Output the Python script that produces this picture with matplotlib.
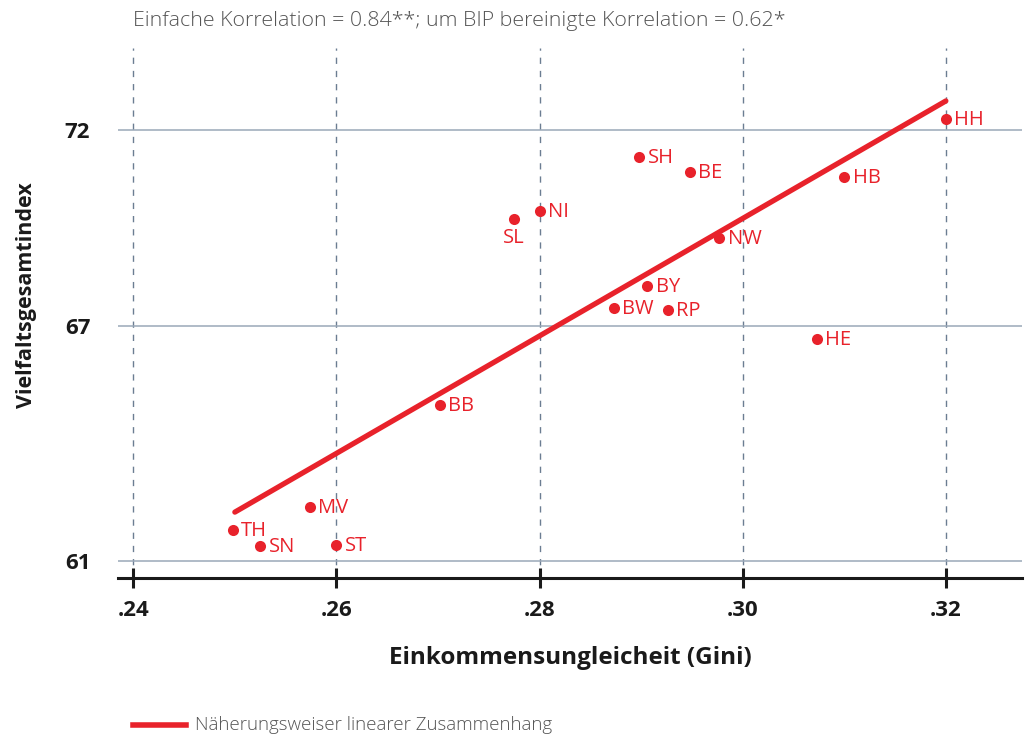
import matplotlib.pyplot as plt

plt.rcParams['font.family'] = ['Open Sans', 'DejaVu Sans']

# --- data ---
laender = ['HH', 'HB', 'BE', 'SH', 'NI', 'SL', 'NW', 'BY', 'BW', 'RP',
           'HE', 'BB', 'MV', 'TH', 'SN', 'ST']
gini = [0.320, 0.310, 0.2948, 0.2898, 0.280, 0.2775, 0.2977, 0.2906, 0.2873,
        0.2926, 0.3073, 0.2702, 0.2574, 0.2498, 0.2525, 0.260]
vielfalt = [72.28, 70.80, 70.93, 71.31, 69.93, 69.73, 69.24, 68.02, 67.46,
            67.41, 66.67, 64.98, 62.38, 61.79, 61.38, 61.41]

fit_x = [0.250, 0.320]
fit_y = [62.25, 72.74]

x_ticks = [0.24, 0.26, 0.28, 0.30, 0.32]
x_ticklabels = ['.24', '.26', '.28', '.30', '.32']
y_ticks = [61, 67, 72]

titel = 'Einfache Korrelation = 0.84**; um BIP bereinigte Korrelation = 0.62*'
legende = 'Näherungsweiser linearer Zusammenhang'

RED = '#e8222b'
GRID_H = '#9aa8b8'
GRID_V = '#6b7d92'
GREY_TXT = '#555555'
DARK = '#1a1a1a'

fig = plt.figure(figsize=(10.31, 7.39), dpi=100)
ax = fig.add_axes([0.1145, 0.2179, 0.8768, 0.7171])

ax.set_xlim(0.2385, 0.3275)
ax.set_ylim(60.57, 74.09)

# grid lines
for xv in x_ticks:
    ax.axvline(xv, color=GRID_V, lw=1, ls=(0, (4.5, 5)), zorder=1)
for yv in y_ticks:
    ax.axhline(yv, color=GRID_H, lw=1.1, zorder=1)

# fit line
ax.plot(fit_x, fit_y, color=RED, lw=3.8, solid_capstyle='round', zorder=2)

# points
ax.plot(gini, vielfalt, 'o', color=RED, ms=8, mec='none', zorder=3)

for lab, x, y in zip(laender, gini, vielfalt):
    if lab == 'SL':
        ax.annotate(lab, (x, y), xytext=(0, -14), textcoords='offset points',
                    ha='center', va='center', color=RED, fontsize=14.5)
    else:
        ax.annotate(lab, (x, y), xytext=(6, -0.5), textcoords='offset points',
                    ha='left', va='center', color=RED, fontsize=14.5)

# spines / ticks
for s in ['top', 'right', 'left']:
    ax.spines[s].set_visible(False)
ax.spines['bottom'].set_linewidth(2.2)
ax.spines['bottom'].set_color(DARK)

ax.set_xticks(x_ticks)
ax.set_xticklabels(x_ticklabels, fontsize=16, fontweight='bold', color=DARK)
ax.tick_params(axis='x', direction='inout', length=14, width=2.2, color=DARK, pad=9)
ax.set_yticks(y_ticks)
ax.set_yticklabels([str(v) for v in y_ticks], fontsize=16, fontweight='bold', color=DARK)
ax.tick_params(axis='y', length=0, pad=20)

ax.set_xlabel('Einkommensungleicheit (Gini)', fontsize=17.5, fontweight='bold',
              color=DARK, labelpad=18)
fig.text(0.026, 0.60, 'Vielfaltsgesamtindex', rotation=90, fontsize=15.5,
         fontweight='bold', color=DARK, ha='center', va='center')

fig.text(0.129, 0.972, titel, fontsize=15.4, fontweight='light', color=GREY_TXT,
         ha='left', va='center')

# legend
fig.add_artist(plt.Line2D([0.129, 0.180], [0.019, 0.019], color=RED, lw=4))
fig.text(0.189, 0.019, legende, fontsize=13.5, fontweight='light', color=GREY_TXT,
         ha='left', va='center')

fig.savefig('out.png', dpi=100)
